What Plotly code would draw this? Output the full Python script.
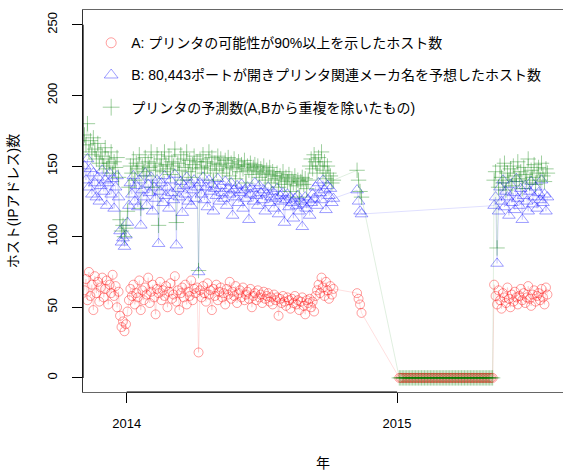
import pandas as pd
import plotly.graph_objects as go

# ---- data ----
# segment 1: every 2 days from 2013-11-05
A_seg1 = [62, 70, 55, 75, 58, 66, 48, 72, 60, 68, 54, 64, 71, 57, 63, 69, 52, 66, 60, 73, 58, 65, 50, 61,
          44, 36, 40, 33, 38, 47, 55,
          63, 58, 66, 52, 60, 57, 69, 48, 62, 55, 64, 59, 71, 53, 61, 66, 57, 45, 63, 60, 68, 55, 62, 58,
          65, 50, 61, 67, 56, 59, 72, 54, 62, 48, 60, 64, 57, 66, 52, 61, 58, 69, 55, 63, 60, 64,
          18,
          62, 57, 65, 60, 54, 67, 59, 62, 48, 63, 58, 66, 55, 61, 64, 57, 60, 52, 63, 59, 68, 56, 61, 58,
          65, 53, 60, 62, 57, 64, 55, 59, 61, 56, 63, 50, 58, 60, 55, 62, 57, 59, 53, 61, 56, 58, 60, 54,
          57, 52, 59, 55, 57, 44, 56, 53, 58, 54, 51, 57, 55, 49, 56, 53, 58, 52, 55, 48, 54, 57, 51, 45,
          55, 53, 56, 50, 54, 47, 58, 62, 66, 60, 71, 64, 58, 68, 62, 56, 65, 59, 63]
B_seg1 = [150, 140, 155, 135, 148, 130, 145, 138, 128, 142, 125, 136, 147, 132, 140, 122, 138, 145, 130, 141,
          120, 135, 143, 128,
          104, 96, 99, 93, 101, 110, 122,
          138, 130, 143, 125, 136, 121, 140, 108, 133, 128, 145, 122, 137, 131, 142, 118, 135, 127, 140, 95,
          132, 138, 124, 143, 129, 135, 120, 140, 131, 126, 144, 94, 134, 128, 139, 117, 136, 130, 142, 125,
          137, 122, 133, 140, 127, 135,
          75,
          138, 130, 142, 126, 135, 121, 140, 132, 137, 118, 134, 129, 141, 125, 136, 131, 127, 139, 122, 134,
          130, 138, 115, 133, 128, 136, 124, 131, 137, 120, 133, 127, 135, 112, 130, 134, 125, 138, 129, 122,
          136, 131, 126, 133, 118, 130, 135, 124, 128, 132, 120, 127, 134, 116, 129, 125, 131, 110, 126, 130,
          121, 128, 124, 113, 127, 122, 129, 118, 125, 107, 123, 128, 120, 126, 115, 124, 130, 127, 135, 122,
          138, 131, 126, 140, 133, 119, 136, 129, 134, 124, 127]
C_seg1 = [172, 165, 180, 160, 168, 158, 170, 162, 155, 166, 152, 160, 157, 150, 163, 148, 155, 152, 160, 145,
          153, 149, 156, 142,
          112, 104, 108, 100, 106, 118, 135,
          150, 145, 155, 140, 152, 148, 158, 120, 150, 146, 156, 143, 153, 149, 160, 135, 152, 147, 158, 108,
          150, 155, 146, 160, 151, 148, 157, 144, 153, 150, 162, 110, 152, 147, 158, 140, 155, 149, 160, 146,
          154, 142, 151, 157, 148, 153,
          76,
          155, 149, 158, 145, 153, 150, 160, 148, 156, 140, 152, 147, 157, 151, 155, 145, 150, 154, 148, 156,
          143, 152, 149, 155, 141, 150, 153, 146, 151, 148, 154, 138, 150, 147, 152, 144, 149, 151, 146, 150,
          142, 148, 145, 150, 140, 147, 144, 149, 138, 146, 143, 141, 145, 135, 143, 140, 146, 137, 142, 139,
          144, 132, 141, 138, 143, 136, 140, 128, 139, 142, 137, 141, 134, 140, 150, 155, 148, 158, 153, 145,
          156, 150, 160, 147, 153, 141, 150, 145, 143, 138, 140]

# segment 2: a few days in November 2014
seg2_dates = ["2014-11-08", "2014-11-10", "2014-11-12", "2014-11-14"]
A_seg2 = [60, 56, 52, 46]
B_seg2 = [133, 125, 118, 116]
C_seg2 = [147, 140, 132, 128]

# zero period (A and C only): every 2 days from 2015-01-04
A_zero = [0, 0, 0, 0, 0, 0, 0, 0, 0, 0, 0, 0, 0, 0, 0, 0,
          0, 0, 0, 0, 0, 0, 0, 0, 0, 0, 0, 0, 0, 0, 0, 0,
          0, 0, 0, 0, 0, 0, 0, 0, 0, 0, 0, 0, 0, 0, 0, 0,
          0, 0, 0, 0, 0, 0, 0, 0, 0, 0, 0, 0, 0, 0, 0, 0]
C_zero = [0, 0, 0, 0, 0, 0, 0, 0, 0, 0, 0, 0, 0, 0, 0, 0,
          0, 0, 0, 0, 0, 0, 0, 0, 0, 0, 0, 0, 0, 0, 0, 0,
          0, 0, 0, 0, 0, 0, 0, 0, 0, 0, 0, 0, 0, 0, 0, 0,
          0, 0, 0, 0, 0, 0, 0, 0, 0, 0, 0, 0, 0, 0, 0, 0]

# segment 3: every 2 days from 2015-05-12
A_seg3 = [66, 58, 52, 62, 55, 49, 60, 57, 53, 64, 56, 50, 59, 54, 61, 57, 52, 58, 63, 55,
          60, 53, 57, 65, 56, 51, 59, 62, 54, 58, 60, 55, 63, 57, 52, 64, 59]
B_seg3 = [122, 128, 81, 118, 135, 125, 140, 121, 132, 128, 115, 137, 124, 131, 119, 141, 127, 122, 134, 112,
          129, 136, 125, 118, 132, 139, 123, 128, 135, 120, 131, 126, 140, 124, 130, 118, 128]
C_seg3 = [140, 146, 92, 135, 150, 142, 138, 152, 133, 145, 140, 148, 136, 150, 143, 139, 153, 141, 146, 134,
          149, 144, 140, 155, 138, 147, 142, 151, 137, 145, 149, 140, 152, 143, 139, 148, 145]

start1 = "2013-11-05"
start_zero = "2015-01-04"
start3 = "2015-05-12"

names = ["A: プリンタの可能性が90%以上を示したホスト数",
         "B: 80,443ポートが開きプリンタ関連メーカ名を予想したホスト数",
         "プリンタの予測数(A,Bから重複を除いたもの)"]
tick_years = ["2014-01-01", "2015-01-01"]
tick_text = ["2014", "2015"]


def days(start, n):
    return list(pd.date_range(start, periods=n, freq="2D"))


def build(seg1, seg2, zero, seg3):
    x = days(start1, len(seg1)) + list(pd.to_datetime(seg2_dates))
    y = list(seg1) + list(seg2)
    if zero is not None:
        x += days(start_zero, len(zero))
        y += list(zero)
    x += days(start3, len(seg3))
    y += list(seg3)
    return x, y


FONT = "Liberation Sans, Arial, Noto Sans CJK JP, sans-serif"
styles = [
    dict(color="rgba(255,0,0,0.38)", line="rgba(255,0,0,0.16)", symbol="circle-open", size=9),
    dict(color="rgba(0,0,255,0.38)", line="rgba(0,0,255,0.16)", symbol="triangle-up-open", size=11),
    dict(color="rgba(0,128,0,0.38)", line="rgba(0,128,0,0.16)", symbol="cross-thin-open", size=11),
]
series = [build(A_seg1, A_seg2, A_zero, A_seg3),
          build(B_seg1, B_seg2, None, B_seg3),
          build(C_seg1, C_seg2, C_zero, C_seg3)]

fig = go.Figure()
for (x, y), st in zip(series, styles):
    fig.add_trace(go.Scatter(
        x=x, y=y, mode="lines+markers", showlegend=False,
        line=dict(color=st["line"], width=0.8),
        marker=dict(symbol=st["symbol"], size=st["size"], color=st["color"],
                    line=dict(color=st["color"], width=1)),
    ))
for i, (name, st) in enumerate(zip(names, styles)):
    fig.add_trace(go.Scatter(
        x=[None], y=[None], mode="markers", name=name, legendgroup=str(i),
        marker=dict(symbol=st["symbol"], size=st["size"] + 1, color=st["color"],
                    line=dict(color=st["color"], width=1)),
    ))

fig.update_layout(
    width=563, height=471,
    margin=dict(l=83, r=0, t=10, b=79),
    paper_bgcolor="white", plot_bgcolor="white",
    font=dict(family=FONT, size=13, color="black"),
    showlegend=True,
    legend=dict(x=0.017, y=0.955, xanchor="left", yanchor="top",
                bgcolor="rgba(0,0,0,0)", font=dict(size=14, family=FONT),
                tracegroupgap=11, itemsizing="trace"),
    xaxis=dict(
        range=["2013-11-03", "2015-08-13"],
        tickvals=tick_years, ticktext=tick_text,
        ticks="outside", ticklen=10, tickcolor="black", tickwidth=1,
        showgrid=False, zeroline=False,
        showline=True, linecolor="#666", linewidth=1, mirror=True,
        title=dict(text="年", standoff=30, font=dict(size=14)),
        tickfont=dict(size=13),
        ticklabelstandoff=9,
    ),
    yaxis=dict(
        range=[-10, 260.5],
        tickvals=[0, 50, 100, 150, 200, 250],
        ticks="outside", ticklen=10, tickcolor="black", tickwidth=1,
        tickangle=-90,
        showgrid=False, zeroline=False,
        showline=True, linecolor="#333", linewidth=1, mirror=False,
        title=dict(text="ホスト(IPアドレス)数", standoff=22, font=dict(size=14)),
        tickfont=dict(size=13),
        ticklabelstandoff=10,
    ),
)
# axis segments between first and last tick (R style)
fig.add_shape(type="line", xref="x", yref="paper", x0=tick_years[0], x1=tick_years[-1],
              y0=0, y1=0, line=dict(color="black", width=1.2))
fig.add_shape(type="line", xref="paper", yref="y", x0=0, x1=0,
              y0=0, y1=250, line=dict(color="black", width=1.2))

fig.write_html("out.html")
